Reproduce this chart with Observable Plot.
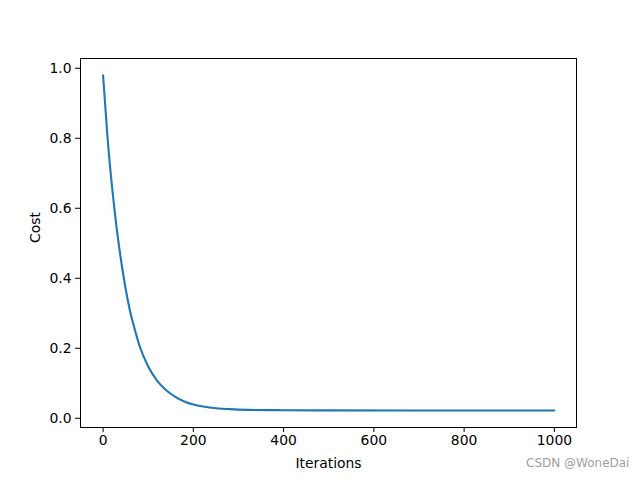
<!DOCTYPE html>
<html>
<head>
<meta charset="utf-8">
<script src="https://cdn.jsdelivr.net/npm/d3@7"></script>
<script src="https://cdn.jsdelivr.net/npm/@observablehq/plot@0.6"></script>
<style>
  html, body { margin: 0; padding: 0; background: #fff; }
  #wrap { position: relative; width: 640px; height: 480px; }
  #wm { position: absolute; left: 526px; top: 456px; font-family: "DejaVu Sans", sans-serif; font-size: 12px; color: #a0a0a0; }
</style>
</head>
<body>
<div id="wrap"><div id="chart"></div><div id="wm">CSDN @WoneDai</div></div>
<script>
const iterations = [0, 10, 20, 30, 40, 50, 60, 70, 80, 100, 120, 140, 160, 180, 200, 240, 280, 320, 400, 500, 700, 1000];
const cost = [0.98, 0.80, 0.66, 0.545, 0.45, 0.37, 0.305, 0.255, 0.21, 0.148, 0.107, 0.080, 0.061, 0.048, 0.039, 0.030, 0.026, 0.024, 0.023, 0.0225, 0.022, 0.022];
const xTicks = [0, 200, 400, 600, 800, 1000];
const yTicks = [0.0, 0.2, 0.4, 0.6, 0.8, 1.0];
const xLabel = "Iterations";
const yLabel = "Cost";

const data = iterations.map((x, i) => ({x, y: cost[i]}));

const chart = Plot.plot({
  width: 640,
  height: 480,
  marginLeft: 80,
  marginRight: 64,
  marginTop: 58,
  marginBottom: 53,
  style: {fontFamily: "DejaVu Sans, sans-serif", fontSize: "13.9px", color: "#000", background: "#fff"},
  x: {domain: [-50, 1049], ticks: xTicks},
  y: {domain: [-0.0264, 1.0279], ticks: yTicks},
  marks: [
    Plot.frame({stroke: "#000", strokeWidth: 1}),
    Plot.axisX({ticks: xTicks, tickSize: 5, tickPadding: 3, label: null, tickFormat: d3.format("d"), stroke: "#000", strokeWidth: 1}),
    Plot.axisY({ticks: yTicks, tickSize: 5, tickPadding: 4, label: null, tickFormat: d3.format(".1f"), stroke: "#000", strokeWidth: 1}),
    Plot.line(data, {x: "x", y: "y", stroke: "#1f77b4", strokeWidth: 2.1, curve: "monotone-x"}),
    Plot.text([xLabel], {frameAnchor: "bottom", dy: 36, text: d => d, fontSize: 13.9, fill: "#000", lineAnchor: "middle"}),
    Plot.text([yLabel], {frameAnchor: "left", dx: -45, rotate: -90, text: d => d, fontSize: 13.9, fill: "#000", lineAnchor: "middle"})
  ]
});
document.getElementById("chart").appendChild(chart);
</script>
</body>
</html>
